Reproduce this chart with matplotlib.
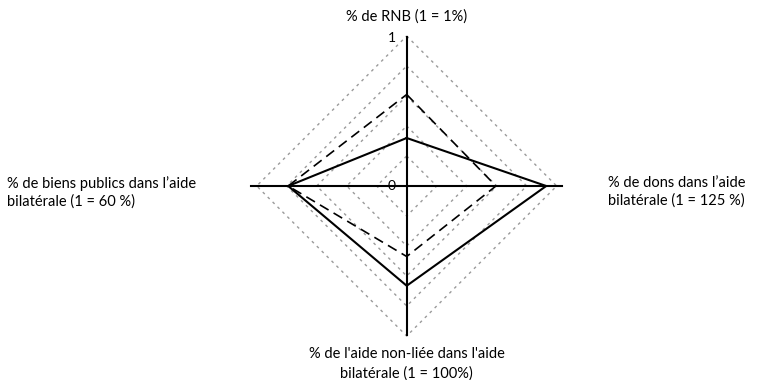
import numpy as np
import matplotlib.pyplot as plt

plt.rcParams["font.family"] = ["Lato", "DejaVu Sans"]

# axes order: top, right, bottom, left
axis_labels = [
    "% de RNB (1 = 1%)",
    "% de dons dans l’aide\nbilatérale (1 = 125 %)",
    "% de l'aide non-liée dans l'aide\nbilatérale (1 = 100%)",
    "% de biens publics dans l’aide\nbilatérale (1 = 60 %)",
]
serie_pleine = [0.32, 0.93, 0.665, 0.79]
serie_tiret = [0.61, 0.595, 0.47, 0.79]
anneaux = [0.2, 0.4, 0.6, 0.8, 1.0]

# direction of each axis (top, right, bottom, left)
dirs = np.array([[0, 1], [1, 0], [0, -1], [-1, 0]])


def to_xy(vals):
    pts = dirs * np.array(vals)[:, None]
    return np.vstack([pts, pts[:1]])


fig = plt.figure(figsize=(7.74, 3.8), dpi=100)
ax = fig.add_axes([0, 0, 1, 1])
cx, cy, s = 406.7, 186, 150
ax.set_xlim(-cx / s, (774 - cx) / s)
ax.set_ylim(-(380 - cy) / s, cy / s)
ax.axis("off")

for r in anneaux:
    xy = to_xy([r] * 4)
    ax.plot(xy[:, 0], xy[:, 1], color="#9a9a9a", lw=1.0, ls=(0, (2, 3)), zorder=1)

ax.plot([0, 0], [-0.995, 0.995], color="black", lw=1.5, zorder=2)
ax.plot([-1.035, 1.035], [0, 0], color="black", lw=1.5, zorder=2)

xy = to_xy(serie_pleine)
ax.plot(xy[:, 0], xy[:, 1], color="black", lw=1.5, zorder=3)
xy = to_xy(serie_tiret)
ax.plot(xy[:, 0], xy[:, 1], color="black", lw=1.2, ls=(0, (6, 3.5)), zorder=3)

ax.text(-0.098, 0.985, "1", fontsize=10, ha="center", va="center")
ax.text(-0.1, 0.0, "0", fontsize=10, ha="center", va="center")

ax.text(0, (cy - 17) / s, axis_labels[0], fontsize=10.5, ha="center", va="center")
ax.text((608 - cx) / s, (cy - 192) / s, axis_labels[1], fontsize=10.5,
        ha="left", va="center", linespacing=1.3)
ax.text(0, -(363.5 - cy) / s, axis_labels[2], fontsize=10.5, ha="center",
        va="center", linespacing=1.45)
ax.text((7 - cx) / s, (cy - 192) / s, axis_labels[3], fontsize=10.5,
        ha="left", va="center", linespacing=1.3)

fig.savefig("out.png", dpi=100)
